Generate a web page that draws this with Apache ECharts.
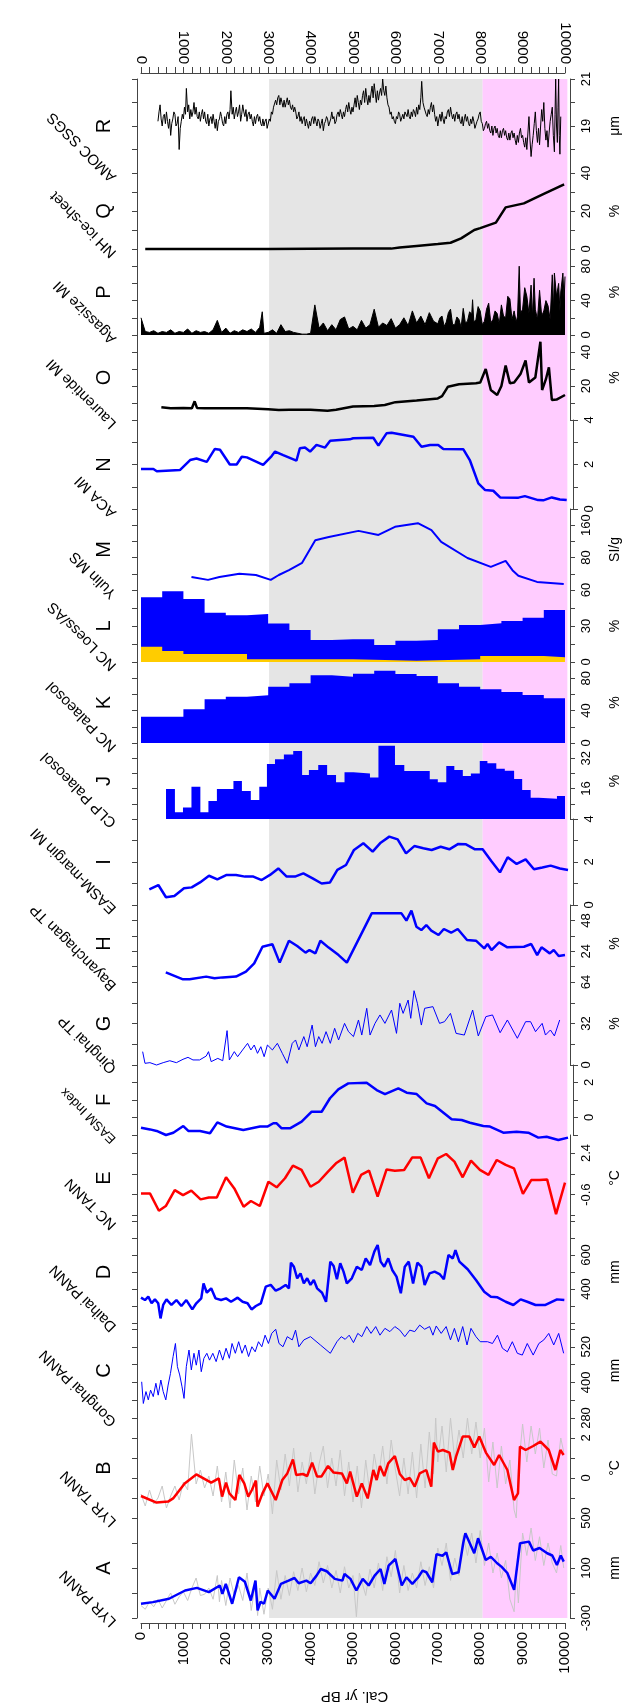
<!DOCTYPE html>
<html>
<head>
<meta charset="utf-8">
<script src="https://cdn.jsdelivr.net/npm/echarts@6/dist/echarts.min.js"></script>
<style>
  html, body { margin: 0; padding: 0; background: #fff; }
  #chart { width: 630px; height: 1705px; }
</style>
</head>
<body>
<div id="chart"></div>
<script>
// ---- time axis (Cal. yr BP) ----
const yearTicks = [0,200,400,600,800,1000,1200,1400,1600,1800,2000,2200,2400,2600,2800,3000,3200,3400,3600,3800,4000,4200,4400,4600,4800,5000,5200,5400,5600,5800,6000,6200,6400,6600,6800,7000,7200,7400,7600,7800,8000,8200,8400,8600,8800,9000,9200,9400,9600,9800,10000];
const yearLabels = [0,1000,2000,3000,4000,5000,6000,7000,8000,9000,10000];
const grayBand = [3000, 8000];
const pinkBand = [8000, 9985];

// ---- R  AMOC SSGS (um) ----
const amocSsgs = [[400,19.2],[425,19.6],[450,19.9],[475,19.3],[500,19.0],[525,19.4],[550,19.5],[575,19.1],[600,19.6],[625,19.2],[650,18.9],[675,19.3],[700,18.6],[725,19.1],[750,19.3],[775,19.6],[800,19.5],[825,19.0],[850,19.1],[875,19.4],[900,18.0],[925,18.9],[950,19.2],[975,19.5],[1000,19.3],[1025,19.8],[1050,19.5],[1070,20.6],[1100,19.6],[1125,19.9],[1150,19.3],[1175,19.7],[1200,19.4],[1225,19.6],[1250,20.0],[1275,19.5],[1300,19.8],[1325,19.4],[1350,19.3],[1375,19.6],[1400,19.2],[1425,19.5],[1450,19.7],[1475,19.3],[1500,19.6],[1525,19.2],[1550,19.1],[1575,19.5],[1600,19.0],[1625,19.3],[1650,19.4],[1675,19.1],[1700,19.5],[1725,19.2],[1750,18.9],[1775,19.3],[1800,18.8],[1825,19.2],[1850,19.3],[1875,19.6],[1900,19.4],[1925,19.1],[1950,19.0],[1975,19.4],[2000,19.1],[2025,19.5],[2050,19.6],[2075,19.3],[2100,19.7],[2120,20.5],[2150,19.5],[2175,19.8],[2200,19.3],[2225,19.6],[2250,19.8],[2275,19.4],[2300,19.6],[2325,19.9],[2350,19.2],[2375,19.5],[2400,19.9],[2425,19.6],[2450,19.4],[2475,19.7],[2500,19.2],[2525,19.5],[2550,19.6],[2575,19.3],[2600,19.5],[2625,19.2],[2650,19.0],[2675,19.4],[2700,19.1],[2725,19.4],[2750,19.5],[2775,19.2],[2800,19.4],[2825,19.1],[2850,19.0],[2875,19.3],[2900,19.0],[2925,19.2],[2950,19.3],[2975,18.9],[3000,18.9],[3025,19.3],[3050,19.2],[3075,19.6],[3100,19.5],[3125,19.8],[3150,19.8],[3175,20.1],[3200,19.9],[3225,20.2],[3250,20.3],[3275,19.9],[3300,20.2],[3325,20.0],[3350,19.8],[3375,20.1],[3400,19.8],[3425,20.0],[3450,20.2],[3475,19.9],[3500,20.1],[3525,19.8],[3550,19.7],[3575,19.9],[3600,19.6],[3625,19.8],[3650,19.6],[3675,19.3],[3700,19.4],[3725,19.6],[3750,19.2],[3775,19.4],[3800,19.1],[3825,19.3],[3850,19.4],[3875,19.0],[3900,19.3],[3925,19.1],[3950,18.9],[3975,19.2],[4000,19.0],[4025,19.3],[4050,19.4],[4075,19.1],[4100,19.4],[4125,19.2],[4150,19.0],[4175,19.3],[4200,19.2],[4225,18.9],[4250,19.1],[4275,19.3],[4300,18.8],[4325,19.1],[4350,19.2],[4375,19.4],[4400,19.3],[4425,19.0],[4450,19.0],[4475,19.3],[4500,19.6],[4525,19.3],[4550,19.4],[4575,19.1],[4600,19.2],[4625,19.5],[4650,19.6],[4675,19.4],[4700,19.7],[4725,19.5],[4750,19.3],[4775,19.6],[4800,19.4],[4825,19.7],[4850,19.9],[4875,19.6],[4900,20.0],[4925,19.7],[4950,19.5],[4975,19.8],[5000,19.6],[5025,19.9],[5050,20.2],[5075,19.8],[5100,20.3],[5125,20.0],[5150,19.7],[5175,20.1],[5200,19.9],[5225,20.3],[5250,20.5],[5275,20.0],[5300,20.6],[5325,20.2],[5350,19.9],[5375,20.3],[5400,20.0],[5425,20.4],[5450,20.7],[5475,20.2],[5500,20.8],[5525,20.4],[5550,20.0],[5575,20.5],[5600,20.1],[5625,20.4],[5650,20.6],[5675,20.3],[5700,21.0],[5725,20.5],[5750,20.3],[5775,20.7],[5800,20.2],[5825,19.9],[5850,19.8],[5875,19.5],[5900,19.6],[5925,19.3],[5950,19.4],[5975,19.2],[6000,19.1],[6025,19.4],[6050,19.3],[6075,19.6],[6100,19.5],[6125,19.2],[6150,19.2],[6175,19.5],[6200,19.3],[6225,19.6],[6250,19.6],[6275,19.4],[6300,19.7],[6325,19.4],[6350,19.3],[6375,19.6],[6400,19.4],[6425,19.7],[6450,19.6],[6475,19.4],[6500,19.8],[6525,19.5],[6550,19.9],[6575,19.7],[6600,20.2],[6620,20.9],[6650,20.0],[6675,19.8],[6700,19.8],[6725,19.5],[6750,19.4],[6775,19.7],[6800,19.5],[6825,19.8],[6850,20.0],[6875,19.6],[6900,19.9],[6925,19.5],[6950,19.2],[6975,19.4],[7000,19.0],[7025,19.3],[7050,19.5],[7075,19.2],[7100,19.6],[7125,19.3],[7150,19.1],[7175,19.4],[7200,19.3],[7225,19.6],[7250,19.7],[7275,19.4],[7300,19.8],[7325,19.5],[7350,19.3],[7375,19.5],[7400,19.2],[7425,19.5],[7450,19.6],[7475,19.3],[7500,19.5],[7525,19.2],[7550,19.1],[7575,19.4],[7600,19.0],[7625,19.3],[7650,19.5],[7675,19.2],[7700,19.4],[7725,19.1],[7750,19.0],[7775,19.3],[7800,19.1],[7825,19.4],[7850,19.2],[7875,18.9],[7900,18.9],[7925,19.2],[7950,19.3],[7975,19.5],[8000,19.6],[8025,19.2],[8050,19.1],[8075,18.8],[8100,18.9],[8125,19.1],[8150,19.2],[8175,18.9],[8200,19.1],[8225,18.8],[8250,18.7],[8275,19.0],[8300,18.6],[8325,18.9],[8350,19.0],[8375,18.7],[8400,18.9],[8425,18.6],[8450,18.5],[8475,18.8],[8500,18.5],[8525,18.8],[8550,18.9],[8575,18.6],[8600,18.8],[8625,18.5],[8650,18.4],[8675,18.7],[8700,18.4],[8725,18.7],[8750,18.8],[8775,18.5],[8800,18.7],[8825,18.4],[8850,18.2],[8875,18.6],[8900,18.3],[8925,18.7],[8950,18.9],[8975,18.5],[9000,18.6],[9025,18.3],[9050,18.1],[9075,18.5],[9100,18.0],[9125,18.7],[9150,19.4],[9175,18.4],[9200,17.7],[9225,18.2],[9250,18.6],[9275,19.1],[9300,19.6],[9325,18.8],[9350,18.3],[9375,18.9],[9400,18.2],[9425,19.0],[9450,19.7],[9475,19.2],[9500,20.0],[9525,18.9],[9550,18.4],[9575,18.8],[9600,18.1],[9625,18.7],[9650,19.2],[9675,19.5],[9700,19.8],[9725,18.6],[9750,17.9],[9765,19.5],[9780,21.0],[9800,19.0],[9820,18.3],[9835,19.8],[9850,21.0],[9865,18.6],[9880,17.8],[9900,19.4]];
const ticksR = [17,18,19,20,21];
const labelsR = [19,21];

// ---- Q  NH ice-sheet (%) ----
const nhIceSheet = [[100,0],[1000,0],[2000,0],[3000,0],[4000,0.1],[5000,0.2],[5900,0.2],[6100,0.8],[6500,1.6],[7000,2.6],[7300,3.3],[7550,5.6],[7860,10],[8000,11],[8370,13.9],[8600,21.9],[9030,24],[9500,29],[9980,34]];
const ticksQ = [0,10,20,30,40];
const labelsQ = [0,20,40];

// ---- P  Agassize MI (%) ----
const agassizMi = [[0,20],[100,4],[200,3],[300,5],[400,2],[500,4],[600,3],[700,6],[800,2],[900,4],[1000,3],[1100,7],[1200,2],[1300,5],[1400,3],[1500,4],[1600,2],[1700,6],[1800,17],[1900,3],[2000,8],[2100,2],[2200,5],[2300,3],[2400,6],[2500,4],[2600,7],[2700,3],[2800,9],[2860,27],[2900,2],[3000,3],[3100,6],[3200,2],[3300,12],[3400,4],[3500,5],[3600,3],[3700,2],[3800,1],[3900,1],[4000,2],[4100,35],[4200,8],[4300,14],[4400,5],[4500,12],[4600,6],[4700,18],[4800,21],[4900,7],[5000,10],[5100,6],[5200,17],[5300,8],[5400,12],[5500,30],[5600,9],[5700,14],[5800,11],[5900,19],[6000,8],[6100,12],[6200,20],[6300,11],[6400,28],[6500,14],[6600,22],[6700,12],[6800,26],[6900,16],[7000,13],[7050,20],[7100,22],[7150,10],[7200,15],[7250,26],[7300,30],[7350,12],[7400,12],[7450,21],[7500,18],[7550,9],[7600,31],[7650,14],[7700,16],[7750,27],[7800,24],[7820,41],[7850,15],[7900,18],[7950,33],[8000,28],[8050,12],[8100,16],[8150,30],[8200,37],[8250,14],[8300,18],[8350,28],[8400,25],[8450,13],[8500,35],[8550,22],[8600,20],[8650,45],[8700,42],[8750,18],[8800,28],[8850,15],[8880,22],[8920,80],[8950,25],[9000,30],[9050,55],[9100,45],[9150,25],[9200,58],[9230,20],[9270,66],[9300,30],[9350,18],[9400,52],[9450,22],[9500,28],[9550,40],[9600,34],[9650,18],[9700,70],[9730,30],[9750,72],[9800,45],[9850,60],[9880,28],[9900,50],[9950,72],[9980,40],[10000,68]];
const ticksP = [0,20,40,60,80,100];
const labelsP = [0,40,80];

// ---- O  Laurentide MI (%) ----
const laurentideMi = [[480,7.5],[700,6.9],[1000,7.1],[1200,6.9],[1265,11],[1320,7.1],[1500,6.9],[2000,6.9],[2500,6.9],[3000,6.3],[3250,5.9],[3500,6.1],[4000,6.0],[4400,5.5],[4600,6.0],[5000,8.0],[5500,8.2],[5750,8.8],[6000,10.5],[6500,11.5],[7000,12.7],[7100,14],[7240,19.6],[7500,21.0],[7900,21.6],[8000,22.0],[8130,30],[8250,17.6],[8400,14.7],[8500,20],[8600,32],[8700,21.6],[8800,22],[8950,27],[9070,35],[9150,22],[9300,25],[9420,46],[9460,17.6],[9550,24],[9620,31],[9690,11.8],[9800,12],[10000,14.7]];
const ticksO = [0,10,20,30,40,50];
const labelsO = [20,40];

// ---- N  ACA MI ----
const acaMi = [[0,1.8],[290,1.8],[370,1.7],[910,1.75],[1150,2.2],[1300,2.27],[1540,2.12],[1730,2.7],[1850,2.66],[2080,2.0],[2240,2.0],[2360,2.35],[2480,2.32],[2860,1.98],[3060,2.38],[3140,2.58],[3330,2.42],[3640,2.17],[3720,2.73],[3840,2.76],[3960,2.58],[4110,2.88],[4310,2.76],[4430,3.07],[4890,3.13],[4970,3.18],[5440,3.2],[5560,2.85],[5750,3.4],[5870,3.43],[6380,3.25],[6570,2.8],[6770,2.88],[6960,2.88],[7080,2.7],[7550,2.68],[7700,2.2],[7900,1.15],[8060,0.85],[8250,0.82],[8410,0.52],[8840,0.51],[8990,0.58],[9300,0.4],[9420,0.39],[9620,0.52],[9810,0.43],[9970,0.4]];
const ticksN = [0,1,2,3,4];
const labelsN = [0,2,4];

// ---- M  Yulin MS (SI/g) ----
const yulinMs = [[1190,32],[1580,25],[1850,32],[2320,40],[2710,37],[3060,25],[3250,37],[3490,49],[3800,67],[4110,123],[4430,131],[5130,146],[5600,136],[5990,156],[6530,165],[6850,148],[7080,119],[7700,79],[8250,57],[8600,72],[8760,49],[8900,35],[9340,20],[9970,15]];
const ticksM = [0,40,80,120,160,200];
const labelsM = [80,160];

// ---- L  NC Loess / AS (%) ----
const ncLoess = [[0,54],[500,59],[1000,52.5],[1500,41],[2000,39],[2500,40],[3000,32],[3500,26.7],[4000,18.3],[4500,18.9],[5000,18.9],[5500,14.2],[6000,17.8],[6500,18.3],[7000,27.2],[7500,30.8],[8000,32.2],[8500,34.2],[9000,36.9],[9500,43.3],[10000,43.3]];
const ncAs = [[0,12.8],[500,9.2],[1000,6.7],[2500,2.2],[5000,1.1],[6500,2.2],[8000,5],[9500,3.9],[10000,3.9]];
const ticksL = [0,15,30,45,60];
const labelsL = [0,30,60];

// ---- K  NC Palaeosol (%) ----
const ncPalaeosol = [[0,32.5],[1000,41.6],[1500,53.9],[2000,57.2],[2500,58.8],[3000,69.5],[3500,73.7],[4000,83.5],[4500,81.9],[5000,85.6],[5500,89.3],[6000,85.2],[6500,82.7],[7000,73.7],[7500,69.5],[8000,66.3],[8500,63],[9000,59.3],[9500,55.1],[10000,55.1]];
const ticksK = [0,20,40,60,80,100];
const labelsK = [0,40,80];

// ---- J  CLP Palaeosol (%) ----
const clpPalaeosol = [[590,15.8],[800,3.5],[990,6.1],[1190,17],[1400,3.5],[1590,9.5],[1790,15.8],[2180,20],[2380,14.7],[2590,10],[2790,17],[2970,29],[3160,31.4],[3370,34],[3590,35.8],[3800,23.2],[3960,25.8],[4180,28.4],[4390,23.2],[4600,19.3],[4800,24.6],[5010,24],[5400,21.8],[5600,38.6],[5990,28.4],[6210,25.3],[6810,20.9],[7000,19.3],[7200,27.9],[7390,25.8],[7590,22.6],[7780,24],[7990,30.5],[8170,29.3],[8380,26.5],[8580,25.4],[8800,21],[8990,15.3],[9190,11.2],[9380,10.7],[9810,12.1],[10000,12.1]];
const ticksJ = [0,8,16,24,32,40];
const labelsJ = [16,32];

// ---- I  EASM-margin MI ----
const easmMarginMi = [[195,0.73],[406,0.93],[585,0.36],[781,0.42],[1007,0.78],[1187,0.82],[1382,1.05],[1592,1.36],[1788,1.19],[2006,1.4],[2225,1.4],[2435,1.32],[2631,1.32],[2826,1.16],[3021,1.4],[3216,1.7],[3411,1.32],[3606,1.32],[3802,1.47],[4020,1.24],[4231,1.0],[4426,1.05],[4598,1.63],[4801,1.86],[4988,2.56],[5207,2.87],[5425,2.48],[5613,2.9],[5815,3.18],[6011,3.05],[6206,2.4],[6401,2.74],[6612,2.64],[6807,2.56],[7018,2.71],[7221,2.59],[7431,2.84],[7611,2.82],[7822,2.59],[8001,2.59],[8212,2.02],[8407,1.52],[8587,2.22],[8797,1.91],[9008,2.12],[9203,1.66],[9399,1.74],[9594,1.83],[9812,1.7],[10000,1.63]];
const ticksI = [0,1,2,3,4];
const labelsI = [0,2,4];

// ---- H  Bayanchagan TP (%) ----
const bayanchaganTp = [[585,7.5],[991,2.1],[1147,2.1],[1538,4.2],[1733,2.9],[1928,3.6],[2240,4.2],[2475,8.1],[2670,14.5],[2865,27.5],[3099,29.4],[3271,15.1],[3489,32.2],[3684,28],[3880,22.9],[3973,24.9],[4114,22.3],[4231,32.2],[4426,26.8],[4660,21],[4855,15.1],[5441,53.5],[6143,53.5],[6260,47.8],[6378,55.6],[6495,43.1],[6612,40.5],[6729,44.4],[6846,40],[7018,36.6],[7143,41.3],[7314,38.4],[7470,41.3],[7689,32.7],[7900,32.2],[8095,26.2],[8173,29.6],[8267,24.9],[8446,30.9],[8641,27],[9032,27.5],[9203,29.6],[9344,21],[9446,27],[9641,22.3],[9734,24.9],[9851,20.3],[10000,21]];
const ticksH = [0,12,24,36,48,60];
const labelsH = [24,48];

// ---- G  Qinghai TP (%) ----
const qinghaiTp = [[39,10.3],[94,1.3],[211,1.8],[367,0],[523,1.8],[679,3.3],[835,1.8],[991,4.4],[1108,5.9],[1226,3.9],[1382,3.9],[1538,6.9],[1592,10.3],[1655,2.6],[1811,5.1],[1928,3.3],[2030,26.5],[2084,3.9],[2201,10.3],[2279,6.4],[2396,11.6],[2514,16.7],[2592,11.6],[2670,15.4],[2748,9],[2826,14.1],[2904,6.4],[2982,15.4],[3099,11.6],[3216,16.7],[3333,9],[3450,1.3],[3567,16.7],[3645,19.3],[3723,11.6],[3840,21.9],[3919,14.1],[4036,30.8],[4114,14.1],[4192,21.9],[4270,16.7],[4364,25.7],[4465,16.7],[4567,28.3],[4660,19.3],[4801,32.1],[4894,25.7],[5011,21.9],[5129,34.7],[5207,23.1],[5324,43.7],[5402,23.1],[5519,32.1],[5636,38.6],[5753,32.1],[5909,42.4],[6026,24.4],[6104,47.6],[6182,39.8],[6300,50.1],[6362,36],[6440,57.3],[6518,47.6],[6612,30.8],[6690,43.7],[6885,45],[7041,32.1],[7158,33.4],[7299,39.8],[7431,24.4],[7626,23.1],[7822,42.4],[7955,22.4],[8134,37.3],[8290,38.6],[8470,24.9],[8641,34.7],[8876,20.6],[9071,33.4],[9188,33.4],[9305,25.7],[9461,32.1],[9539,23.1],[9656,27],[9750,22.4],[9875,34.7]];
const ticksG = [0,16,32,48,64];
const labelsG = [0,32,64];

// ---- F  EASM Index ----
const easmIndex = [[0,-0.58],[211,-0.68],[367,-0.77],[585,-1.0],[757,-0.87],[991,-0.49],[1108,-0.77],[1382,-0.77],[1616,-0.9],[1788,-0.28],[2006,-0.52],[2396,-0.71],[2787,-0.52],[2959,-0.52],[3099,-0.33],[3177,-0.33],[3294,-0.62],[3489,-0.62],[3762,-0.24],[3997,0.33],[4231,0.33],[4426,1.1],[4621,1.61],[4855,1.95],[5285,1.99],[5519,1.57],[5714,1.34],[6026,1.67],[6222,1.42],[6456,1.34],[6690,0.81],[6885,0.66],[7275,-0.1],[7509,-0.14],[7704,-0.3],[8017,-0.49],[8173,-0.52],[8485,-0.87],[8797,-0.81],[9071,-0.87],[9305,-1.15],[9500,-1.1],[9773,-1.29],[10000,-1.15]];
const ticksF = [-1,0,1,2,3];
const labelsF = [0,2];

// ---- E  NC TANN (degC) ----
const ncTann = [[0,-0.51],[211,-0.51],[422,-1.76],[585,-1.42],[796,-0.27],[991,-0.63],[1187,-0.31],[1405,-0.94],[1600,-0.8],[1788,-0.8],[2006,0.65],[2201,-0.15],[2420,-1.47],[2592,-1.06],[2802,-1.42],[3005,0.33],[3200,-0.07],[3396,0.58],[3583,1.49],[3786,1.18],[3997,-0.03],[4192,0.33],[4411,1.06],[4598,1.66],[4801,2.07],[4996,-0.46],[5191,0.82],[5379,1.13],[5581,-0.75],[5792,1.22],[5987,1.13],[6206,1.18],[6393,2.07],[6596,2.07],[6791,0.58],[7002,2.02],[7197,2.33],[7392,1.78],[7587,0.65],[7782,1.85],[7993,1.18],[8196,0.82],[8391,1.9],[8602,1.54],[8797,1.3],[9008,-0.55],[9203,0.45],[9399,0.45],[9578,0.5],[9789,-2.0],[10000,0.26]];
const ticksE = [-2.1,-0.6,0.9,2.4];
const labelsE = [-0.6,2.4];

// ---- D  Daihai PANN (mm) ----
const daihaiPann = [[0,349],[94,335],[172,355],[250,316],[328,339],[406,316],[460,227],[523,306],[601,339],[718,306],[835,335],[952,300],[1069,335],[1210,280],[1304,316],[1421,345],[1475,433],[1553,378],[1655,404],[1756,345],[1889,335],[2006,345],[2123,325],[2279,349],[2396,325],[2513,316],[2607,280],[2709,300],[2826,316],[2943,414],[3060,424],[3177,390],[3294,404],[3411,424],[3489,404],[3536,555],[3606,531],[3684,463],[3762,492],[3840,433],[3919,463],[3997,424],[4075,453],[4153,404],[4270,378],[4364,325],[4465,561],[4543,535],[4621,457],[4699,551],[4777,502],[4855,433],[4972,463],[5090,531],[5207,512],[5300,580],[5402,541],[5503,620],[5581,659],[5652,561],[5737,531],[5831,580],[5925,512],[6026,473],[6128,375],[6221,531],[6315,561],[6417,433],[6518,555],[6612,531],[6690,424],[6807,492],[6924,502],[7041,488],[7143,457],[7252,600],[7353,580],[7416,629],[7509,561],[7704,516],[7900,453],[8095,384],[8251,355],[8407,351],[8602,325],[8782,306],[8954,339],[9110,325],[9305,306],[9539,306],[9812,339],[9984,335]];
const ticksD = [200,300,400,500,600,700,800];
const labelsD = [400,600];

// ---- C  Gonghai PANN (mm) ----
const gonghaiPann = [[16,402],[55,329],[117,369],[172,341],[226,374],[289,352],[351,397],[406,357],[468,408],[523,369],[585,341],[640,391],[695,430],[757,487],[812,531],[859,453],[913,425],[968,385],[1015,346],[1069,453],[1132,509],[1187,442],[1249,498],[1304,458],[1366,509],[1421,436],[1483,481],[1553,498],[1616,475],[1694,498],[1772,470],[1850,509],[1928,475],[2006,515],[2084,481],[2147,531],[2225,498],[2303,537],[2381,498],[2459,526],[2537,487],[2615,520],[2693,503],[2771,537],[2849,520],[2927,559],[3005,531],[3083,565],[3177,579],[3255,531],[3349,520],[3450,554],[3567,543],[3645,576],[3723,520],[3840,543],[3997,554],[4231,526],[4465,498],[4621,537],[4723,554],[4816,545],[4910,559],[5011,534],[5113,565],[5207,554],[5324,588],[5425,565],[5535,588],[5636,559],[5753,582],[5870,571],[5987,588],[6104,576],[6222,554],[6339,576],[6456,571],[6573,593],[6690,579],[6807,588],[6885,559],[6963,590],[7080,565],[7197,588],[7299,543],[7392,582],[7486,537],[7587,588],[7689,526],[7782,582],[7900,554],[8001,537],[8173,537],[8290,531],[8407,559],[8524,515],[8641,503],[8758,537],[8876,498],[8993,492],[9110,531],[9250,492],[9383,531],[9500,543],[9617,565],[9734,526],[9851,565],[9968,498]];
const ticksC = [280,340,400,460,520,580];
const labelsC = [280,400,520];

// ---- B  LYR TANN (degC) ----
const lyrTann = [[0,-0.9],[367,-1.23],[640,-1.18],[757,-1.02],[1030,-0.27],[1304,0.18],[1655,-0.23],[1835,-0.02],[1913,-0.93],[2006,-0.23],[2084,-0.77],[2225,-1.1],[2318,0.15],[2435,-0.27],[2529,-0.93],[2615,-0.6],[2709,-0.13],[2748,-1.43],[2865,-0.77],[2982,-0.27],[3177,-1.1],[3333,-0.1],[3450,0.23],[3583,0.93],[3661,0.15],[3817,0.2],[3919,0.1],[4036,0.77],[4153,0.07],[4254,0.07],[4411,0.6],[4543,0.27],[4738,0.23],[4855,-0.27],[4933,0.32],[5090,-0.93],[5207,-0.27],[5347,-1.02],[5480,0.4],[5558,-0.1],[5636,0.6],[5737,0.1],[5831,0.73],[5987,1.1],[6104,0.2],[6222,-0.1],[6339,0.0],[6456,-0.43],[6573,0.23],[6729,0.4],[6846,-0.43],[6908,1.77],[7002,1.32],[7119,1.4],[7275,1.27],[7353,0.4],[7431,1.07],[7587,2.07],[7743,2.07],[7861,1.53],[7978,2.07],[8134,1.27],[8329,0.65],[8446,1.15],[8641,0.4],[8797,-1.1],[8891,-0.77],[8938,1.57],[9071,1.4],[9250,1.6],[9422,1.82],[9617,1.4],[9773,0.4],[9890,1.4],[9968,1.15]];
const lyrTannRaw = [[0,-0.8],[100,-1.4],[200,-0.6],[300,-1.3],[400,-1.0],[500,-0.4],[600,-1.5],[700,-0.9],[800,-0.4],[900,-1.1],[1000,-0.2],[1100,-0.6],[1190,2.2],[1300,-0.3],[1400,0.4],[1500,-0.5],[1600,0.1],[1700,-0.9],[1800,0.6],[1900,-1.2],[2000,0.3],[2100,-1.5],[2200,0.9],[2300,-0.8],[2400,0.5],[2500,-1.6],[2600,0.1],[2700,-1.2],[2800,0.6],[2900,-0.9],[3000,0.2],[3100,-1.8],[3200,0.9],[3300,-0.6],[3400,1.2],[3500,-0.4],[3600,1.5],[3700,-0.7],[3800,0.8],[3900,-0.3],[4000,1.3],[4100,-0.8],[4200,0.7],[4300,1.6],[4400,-0.5],[4500,1.0],[4600,-0.4],[4700,1.4],[4800,-0.9],[4900,0.8],[5000,-1.2],[5100,0.6],[5200,-1.5],[5300,0.9],[5400,-0.8],[5500,1.2],[5600,0.0],[5700,1.6],[5800,-0.3],[5900,1.9],[6000,0.4],[6100,-0.9],[6200,1.0],[6300,-0.8],[6400,1.3],[6500,-1.0],[6600,1.7],[6700,-0.5],[6800,2.3],[6900,0.2],[6950,3.0],[7000,0.8],[7100,2.6],[7200,0.3],[7300,3.0],[7400,0.9],[7500,2.4],[7600,1.0],[7700,3.0],[7800,1.2],[7900,2.8],[8000,1.0],[8100,2.5],[8200,-0.2],[8300,1.8],[8400,-0.5],[8500,1.6],[8600,-0.3],[8700,0.9],[8800,-1.6],[8850,-2.0],[8900,0.4],[9000,2.7],[9100,0.8],[9200,2.6],[9300,1.2],[9400,2.5],[9500,0.5],[9600,1.9],[9700,0.2],[9800,0.1],[9900,2.0],[9970,1.3]];
const ticksB = [-2,-1,0,1,2,3];
const labelsB = [0,2];

// ---- A  LYR PANN (mm) ----
const lyrPann = [[0,-186],[280,-173],[660,-146],[1040,-80],[1320,-59],[1600,-93],[1860,-40],[1920,-107],[2000,-27],[2150,-186],[2310,26],[2450,-10],[2590,-160],[2700,-1],[2750,-239],[2820,-170],[2900,-186],[2990,-80],[3150,-146],[3300,-27],[3480,-1],[3620,20],[3720,-22],[3900,-1],[4000,-22],[4140,39],[4240,92],[4380,74],[4570,13],[4750,-1],[4800,52],[4940,13],[5080,-80],[5230,13],[5370,-40],[5510,39],[5650,92],[5740,-27],[5840,119],[6000,172],[6150,-40],[6260,26],[6400,-27],[6540,26],[6640,79],[6730,66],[6870,-14],[6970,211],[7110,198],[7200,225],[7340,52],[7490,66],[7600,300],[7650,378],[7860,218],[7950,338],[8130,164],[8250,190],[8400,138],[8500,111],[8640,60],[8800,-75],[8940,298],[9150,311],[9250,240],[9400,260],[9580,218],[9700,200],[9810,124],[9900,200],[9970,151]];
const lyrPannRaw = [[0,-200],[100,-230],[200,-170],[300,-210],[400,-150],[500,-220],[600,-160],[700,-100],[800,-190],[900,-130],[1000,-90],[1100,-160],[1200,-60],[1300,20],[1400,-120],[1500,-110],[1600,-60],[1700,-150],[1800,40],[1850,-170],[1900,0],[2000,-200],[2100,20],[2200,-120],[2300,-40],[2400,-160],[2500,60],[2600,-240],[2700,-20],[2750,-280],[2800,-60],[2900,-270],[3000,-60],[3100,-230],[3200,80],[3300,-150],[3400,40],[3500,-120],[3600,70],[3700,-80],[3800,100],[3900,-90],[4000,60],[4100,-40],[4200,150],[4300,-20],[4400,120],[4500,-60],[4600,80],[4700,-100],[4800,110],[4900,-60],[5000,40],[5080,-290],[5150,60],[5300,-120],[5400,90],[5500,-60],[5600,140],[5700,-80],[5800,190],[5900,30],[6000,240],[6100,-100],[6200,120],[6300,-80],[6400,60],[6500,-60],[6600,150],[6700,-40],[6800,110],[6900,-60],[7000,260],[7100,120],[7200,300],[7300,0],[7400,180],[7500,40],[7600,360],[7700,200],[7800,380],[7900,140],[8000,400],[8100,120],[8200,300],[8300,60],[8400,220],[8500,20],[8600,160],[8700,-150],[8800,-250],[8850,80],[8900,-180],[9000,380],[9100,200],[9200,420],[9300,160],[9400,350],[9500,120],[9600,300],[9700,140],[9800,60],[9900,280],[9970,100]];
const ticksA = [-300,-100,100,300,500];
const labelsA = [-300,100,500];

// ---------------------------------------------------------------
const FONT = "'Liberation Sans', Arial, sans-serif";
const BLUE = '#0000ff', RED = '#ff0000', BLACK = '#000000', YELLOW = '#ffcc00', RAW = '#c8c8c8';
const PLOT_LEFT = 141, PLOT_RIGHT = 62;
const AXIS_COLOR = '#444';

function ln(data, color, width) { return { data, color, width }; }
function area(data, color, step) { return { data, color, width: 0, area: true, step }; }

// panels from top to bottom
const panels = [
  { letter: 'R', name: 'AMOC SSGS', top: 79, height: 94, min: 17, max: 21, ticks: ticksR, labels: labelsR, unit: 'μm', lines: [ln(amocSsgs, BLACK, 1)] },
  { letter: 'Q', name: 'NH ice-sheet', top: 173, height: 76, min: 0, max: 40, ticks: ticksQ, labels: labelsQ, unit: '%', lines: [ln(nhIceSheet, BLACK, 2.5)] },
  { letter: 'P', name: 'Agassize MI', top: 249, height: 86, min: 0, max: 100, ticks: ticksP, labels: labelsP, unit: '%', lines: [{ data: agassizMi, color: BLACK, width: 1, area: true }] },
  { letter: 'O', name: 'Laurentide MI', top: 335, height: 85, min: 0, max: 50, ticks: ticksO, labels: labelsO, unit: '%', lines: [ln(laurentideMi, BLACK, 2.5)] },
  { letter: 'N', name: 'ACA MI', top: 420, height: 89, min: 0, max: 4, ticks: ticksN, labels: labelsN, unit: '', lines: [ln(acaMi, BLUE, 2.5)] },
  { letter: 'M', name: 'Yulin MS', top: 509, height: 81, min: 0, max: 200, ticks: ticksM, labels: labelsM, unit: 'SI/g', lines: [ln(yulinMs, BLUE, 2)] },
  { letter: 'L', name: 'NC Loess/AS', top: 590, height: 72, min: 0, max: 60, ticks: ticksL, labels: labelsL, unit: '%', lines: [area(ncLoess, BLUE, 'end'), area(ncAs, YELLOW, 'end')] },
  { letter: 'K', name: 'NC Palaeosol', top: 662, height: 81, min: 0, max: 100, ticks: ticksK, labels: labelsK, unit: '%', lines: [area(ncPalaeosol, BLUE, 'end')] },
  { letter: 'J', name: 'CLP Palaeosol', top: 743, height: 76, min: 0, max: 40, ticks: ticksJ, labels: labelsJ, unit: '%', lines: [area(clpPalaeosol, BLUE, 'end')] },
  { letter: 'I', name: 'EASM-margin MI', top: 819, height: 86, min: 0, max: 4, ticks: ticksI, labels: labelsI, unit: '', lines: [ln(easmMarginMi, BLUE, 2.5)] },
  { letter: 'H', name: 'Bayanchagan TP', top: 905, height: 77, min: 0, max: 60, ticks: ticksH, labels: labelsH, unit: '%', lines: [ln(bayanchaganTp, BLUE, 2.5)] },
  { letter: 'G', name: 'Qinghai TP', top: 982, height: 83, min: 0, max: 64, ticks: ticksG, labels: labelsG, unit: '%', lines: [ln(qinghaiTp, BLUE, 1)] },
  { letter: 'F', name: 'EASM Index', nameSize: 13, top: 1065, height: 70, min: -1, max: 3, ticks: ticksF, labels: labelsF, unit: '', lines: [ln(easmIndex, BLUE, 2.5)] },
  { letter: 'E', name: 'NC TANN', top: 1135, height: 86, min: -2.5, max: 3.7, ticks: ticksE, labels: labelsE, unit: '°C', lines: [ln(ncTann, RED, 2.5)] },
  { letter: 'D', name: 'Daihai PANN', top: 1221, height: 102, min: 200, max: 800, ticks: ticksD, labels: labelsD, unit: 'mm', lines: [ln(daihaiPann, BLUE, 2.5)] },
  { letter: 'C', name: 'Gonghai PANN', top: 1323, height: 95, min: 280, max: 600, ticks: ticksC, labels: labelsC, unit: 'mm', lines: [ln(gonghaiPann, BLUE, 1)] },
  { letter: 'B', name: 'LYR TANN', top: 1418, height: 100, min: -2, max: 3, ticks: ticksB, labels: labelsB, unit: '°C', lines: [ln(lyrTannRaw, RAW, 1), ln(lyrTann, RED, 2.5)] },
  { letter: 'A', name: 'LYR PANN', top: 1518, height: 100, min: -300, max: 500, ticks: ticksA, labels: labelsA, unit: 'mm', lines: [ln(lyrPannRaw, RAW, 1), ln(lyrPann, BLUE, 2.5)] }
];

const first = panels[0], last = panels[panels.length - 1];
const grid = [{ left: PLOT_LEFT, right: PLOT_RIGHT, top: first.top, height: last.top + last.height - first.top }];
const xAxis = [{ gridIndex: 0, type: 'value', min: 0, max: 10000, show: false }];
const yAxis = [{ gridIndex: 0, type: 'value', min: 0, max: 1, show: false }];
const series = [{
  type: 'line', xAxisIndex: 0, yAxisIndex: 0, data: [[0, 0]], symbol: 'none', silent: true, z: 0,
  lineStyle: { opacity: 0 },
  markArea: {
    silent: true,
    data: [
      [{ xAxis: grayBand[0], itemStyle: { color: '#e5e5e5' } }, { xAxis: grayBand[1] }],
      [{ xAxis: pinkBand[0], itemStyle: { color: '#ffccff' } }, { xAxis: pinkBand[1] }]
    ]
  }
}];
const graphic = [];

const timeAxisStyle = (position) => ({
  show: true, position, offset: position === 'top' ? 6 : 5,
  axisLine: { show: true, onZero: false, lineStyle: { color: AXIS_COLOR, width: 1 } },
  axisTick: { show: true, customValues: yearTicks, length: 6, lineStyle: { color: AXIS_COLOR } },
  axisLabel: { show: true, customValues: yearLabels, rotate: 90, fontSize: 15, color: '#000', fontFamily: FONT, margin: 9,
    formatter: (v) => String(v) },
  splitLine: { show: false }
});

panels.forEach((p, i) => {
  const gi = i + 1;
  grid.push({ left: PLOT_LEFT, right: PLOT_RIGHT, top: p.top, height: p.height });
  let xa = { gridIndex: gi, type: 'value', min: 0, max: 10000, show: false, axisLine: { onZero: false } };
  if (i === 0) xa = Object.assign(xa, timeAxisStyle('top'));
  if (i === panels.length - 1) xa = Object.assign(xa, timeAxisStyle('bottom'));
  xAxis.push(xa);

  const common = {
    gridIndex: gi, type: 'value', min: p.min, max: p.max,
    axisLine: { show: true, onZero: false, lineStyle: { color: AXIS_COLOR, width: 1 } },
    axisTick: { show: true, customValues: p.ticks, length: 5, lineStyle: { color: AXIS_COLOR } },
    splitLine: { show: false }
  };
  yAxis.push(Object.assign({}, common, { position: 'left', offset: 4, axisLabel: { show: false } }));
  const rightIndex = yAxis.length;
  yAxis.push(Object.assign({}, common, {
    position: 'right', offset: 5,
    axisLabel: { show: true, customValues: p.labels, rotate: 90, fontSize: 13, color: '#000', fontFamily: FONT, margin: 10,
      formatter: (v) => String(v) },
    name: p.unit, nameLocation: 'middle', nameRotate: 90, nameGap: 38,
    nameTextStyle: { fontSize: 14, color: '#000', fontFamily: FONT }
  }));

  p.lines.forEach((s) => {
    series.push({
      type: 'line', xAxisIndex: gi, yAxisIndex: rightIndex, data: s.data,
      symbol: 'none', showSymbol: false, clip: false, step: s.step || false,
      lineStyle: { color: s.color, width: s.width, opacity: s.width ? 1 : 0 },
      itemStyle: { color: s.color },
      areaStyle: s.area ? { color: s.color, opacity: 1 } : undefined,
      silent: true
    });
  });

  const mid = p.top + p.height / 2;
  const bottom = p.top + p.height;
  graphic.push({
    type: 'text', x: 104, y: mid, rotation: Math.PI / 2,
    style: { text: p.letter, font: '20px ' + FONT, fill: '#000', align: 'center', verticalAlign: 'middle' }
  });
  graphic.push({
    type: 'text', x: 114, y: bottom + 6, rotation: Math.PI * 3 / 4,
    style: { text: p.name, font: (p.nameSize || 15) + 'px ' + FONT, fill: '#000', align: 'left', verticalAlign: 'middle' }
  });
});

graphic.push({
  type: 'text', x: (PLOT_LEFT + 630 - PLOT_RIGHT) / 2, y: 1696, rotation: Math.PI,
  style: { text: 'Cal. yr BP', font: '15px ' + FONT, fill: '#000', align: 'center', verticalAlign: 'middle' }
});

const chart = echarts.init(document.getElementById('chart'), null, { renderer: 'canvas' });
chart.setOption({
  animation: false,
  backgroundColor: '#ffffff',
  grid, xAxis, yAxis, series, graphic
});
</script>
</body>
</html>
